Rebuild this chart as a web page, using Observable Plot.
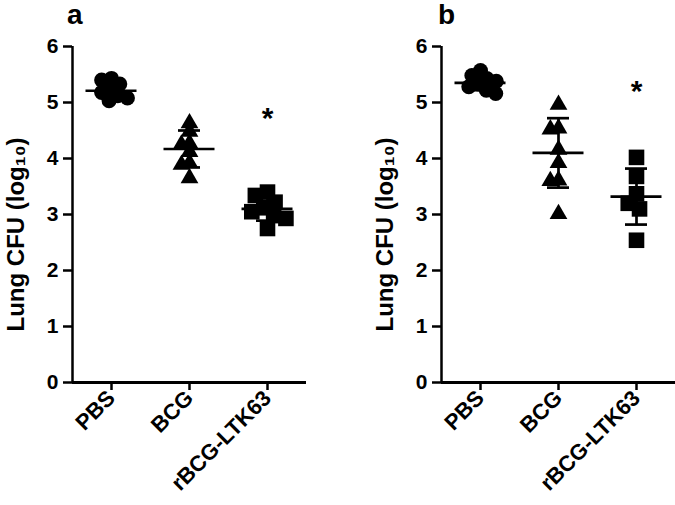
<!DOCTYPE html>
<html><head><meta charset="utf-8">
<script src="https://cdn.jsdelivr.net/npm/d3@7"></script>
<script src="https://cdn.jsdelivr.net/npm/@observablehq/plot@0.6"></script>
<style>
body{margin:0;background:#fff;font-family:"Liberation Sans",Arial,sans-serif;}
#wrap{display:flex;width:675px;height:505px;overflow:hidden}
.panel{position:relative}
.ttl{height:30px;line-height:30px;font-size:28px;font-weight:bold;color:#000}
</style></head><body>
<div id="wrap">
  <div class="panel" id="pa"><div class="ttl" style="padding-left:67px">a</div></div>
  <div class="panel" id="pb"><div class="ttl" style="padding-left:69px">b</div></div>
</div>
<script>
// categories
const groups = ["PBS", "BCG", "rBCG-LTK63"];
const yTicks = [0, 1, 2, 3, 4, 5, 6];
const yLabel = "Lung CFU (log₁₀)";

// panel a values (log10 CFU)
const aPBS = [5.43, 5.40, 5.33, 5.25, 5.18, 5.12, 5.08, 5.03];
const aBCG = [4.63, 4.48, 4.27, 4.25, 4.12, 3.92, 3.89, 3.65];
const aLTK = [3.40, 3.34, 3.22, 3.12, 3.05, 2.98, 2.93, 2.75];
const aMean = [5.21, 4.17, 3.10];
const aSD = [0.12, 0.33, 0.21];
const aStar = 4.72;

// panel b values (log10 CFU)
const bPBS = [5.57, 5.48, 5.43, 5.38, 5.33, 5.28, 5.22, 5.16];
const bBCG = [4.96, 4.54, 4.52, 4.16, 3.92, 3.61, 3.60, 3.01];
const bLTK = [4.02, 3.68, 3.37, 3.20, 3.10, 2.54];
const bMean = [5.35, 4.10, 3.32];
const bSD = [0.13, 0.62, 0.50];
const bStar = 5.20;

const shapes = {"PBS": ["circle", 7.5], "BCG": ["triangle", 6.6], "rBCG-LTK63": ["square", 8.8]};
const FONT = '"Liberation Sans", Arial, sans-serif';

function panel(vals, means, sds, starY, width, marginRight) {
  const pts = groups.flatMap((g, i) => vals[i].map(v => ({g, v})));
  const stats = groups.map((g, i) => ({g, m: means[i], lo: means[i] - sds[i], hi: means[i] + sds[i]}));
  const dots = groups.map(g => Plot.dot(pts.filter(d => d.g === g),
    Plot.dodgeX({anchor: "middle", padding: -5, fx: "g", y: "v", r: shapes[g][1], symbol: shapes[g][0], fill: "black", stroke: "none"})));
  return Plot.plot({
    width, height: 475,
    marginTop: 16, marginBottom: 123, marginLeft: 71, marginRight,
    style: {fontFamily: FONT, fontWeight: "bold", fontSize: "21px", color: "black", background: "white", overflow: "visible"},
    fx: {domain: groups, padding: 0, label: null},
    x: {domain: [0, 1], axis: null},
    y: {domain: [0, 6]},
    marks: [
      Plot.axisY({ticks: yTicks, tickSize: 9, tickPadding: 5, tickFormat: d3.format("d"), label: null, strokeWidth: 2.5, fontSize: 21}),
      Plot.axisFx({anchor: "bottom", tickSize: 8, tickPadding: 4, tickRotate: -45, label: null, strokeWidth: 2.5, fontSize: 22}),
      Plot.ruleY([0], {strokeWidth: 3}),
      Plot.ruleX([{g: groups[0]}], {fx: "g", x: () => 0, strokeWidth: 2.5}),
      Plot.text([{g: groups[0]}], {fx: "g", text: () => yLabel, frameAnchor: "left", rotate: -90, dx: -56, dy: 20,
        fontSize: 24, fontWeight: "bold", textAnchor: "middle", lineAnchor: "middle"}),
      ...dots,
      Plot.tickY(stats, {fx: "g", y: "m", insetLeft: 13.5, insetRight: 13.5, strokeWidth: 2.7}),
      Plot.tickY(stats, {fx: "g", y: "hi", insetLeft: 28, insetRight: 28, strokeWidth: 2.7}),
      Plot.tickY(stats, {fx: "g", y: "lo", insetLeft: 28, insetRight: 28, strokeWidth: 2.7}),
      Plot.ruleX(stats, {fx: "g", x: () => 0.5, y1: "lo", y2: "hi", strokeWidth: 2.7}),
      Plot.text([{g: groups[2], y: starY}], {fx: "g", y: "y", text: () => "*", fontSize: 30, fontWeight: "bold"})
    ]
  });
}

document.getElementById("pa").appendChild(panel([aPBS, aBCG, aLTK], aMean, aSD, aStar, 369, 63));
document.getElementById("pb").appendChild(panel([bPBS, bBCG, bLTK], bMean, bSD, bStar, 306, 0));
</script>
</body></html>
